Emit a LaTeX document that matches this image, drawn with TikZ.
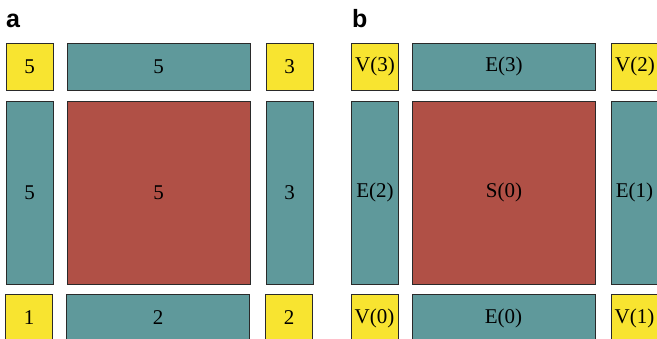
\documentclass[tikz,border=0pt]{standalone}
\usepackage{fontspec}
\usepackage{tikz}
\usetikzlibrary{positioning}
\newfontfamily\cellfont{Liberation Serif}
\newfontfamily\panelfont{Liberation Sans}
\definecolor{VtxYellow}{HTML}{F8E430}
\definecolor{EdgTeal}{HTML}{5F999B}
\definecolor{SqRed}{HTML}{B05046}
\definecolor{Rim}{HTML}{2A2A2A}

\tikzset{
  cell/.style={draw=Rim,line width=0.9pt,inner sep=0pt,
    font=\cellfont\fontsize{21}{21}\selectfont},
  vtx/.style={cell,fill=VtxYellow,minimum width=47pt,minimum height=47pt},
  hedge/.style={cell,fill=EdgTeal,minimum width=183pt,minimum height=47pt},
  vedge/.style={cell,fill=EdgTeal,minimum width=47pt,minimum height=183pt},
  sq/.style={cell,fill=SqRed,minimum width=183pt,minimum height=183pt},
  panel/.style={anchor=base west,inner sep=0pt,
    font=\panelfont\bfseries\fontsize{25}{25}\selectfont}
}

\begin{document}
\begin{tikzpicture}[x=1pt,y=-1pt]
  \clip (0,0) rectangle (657,339);

  % panel a: numbers
  \node[panel] (labA) at (6,28) {a};
  \node[vtx]   (aV3) at (29.5,66.5)  {5};
  \node[hedge] (aE3) at (158.5,66.5) {5};
  \node[vtx]   (aV2) at (289.5,66.5) {3};
  \node[vedge] (aE2) at (29.5,192.5) {5};
  \node[sq]    (aS0) at (158.5,192.5) {5};
  \node[vedge] (aE1) at (289.5,192.5) {3};
  \node[vtx]   (aV0) at (29,318)  {1};
  \node[hedge] (aE0) at (158,318) {2};
  \node[vtx]   (aV1) at (289,318) {2};

  % panel b: names
  \node[panel] (labB) at (352,28) {b};
  \node[vtx]   (bV3) at (375,66.5) {V(3)};
  \node[hedge] (bE3) at (504,66.5) {E(3)};
  \node[vtx]   (bV2) at (635,66.5) {V(2)};
  \node[vedge] (bE2) at (375,192.5) {E(2)};
  \node[sq]    (bS0) at (504,192.5) {S(0)};
  \node[vedge] (bE1) at (634.5,192.5) {E(1)};
  \node[vtx]   (bV0) at (374.5,318) {V(0)};
  \node[hedge] (bE0) at (503.5,318) {E(0)};
  \node[vtx]   (bV1) at (634.5,318) {V(1)};
\end{tikzpicture}
\end{document}
